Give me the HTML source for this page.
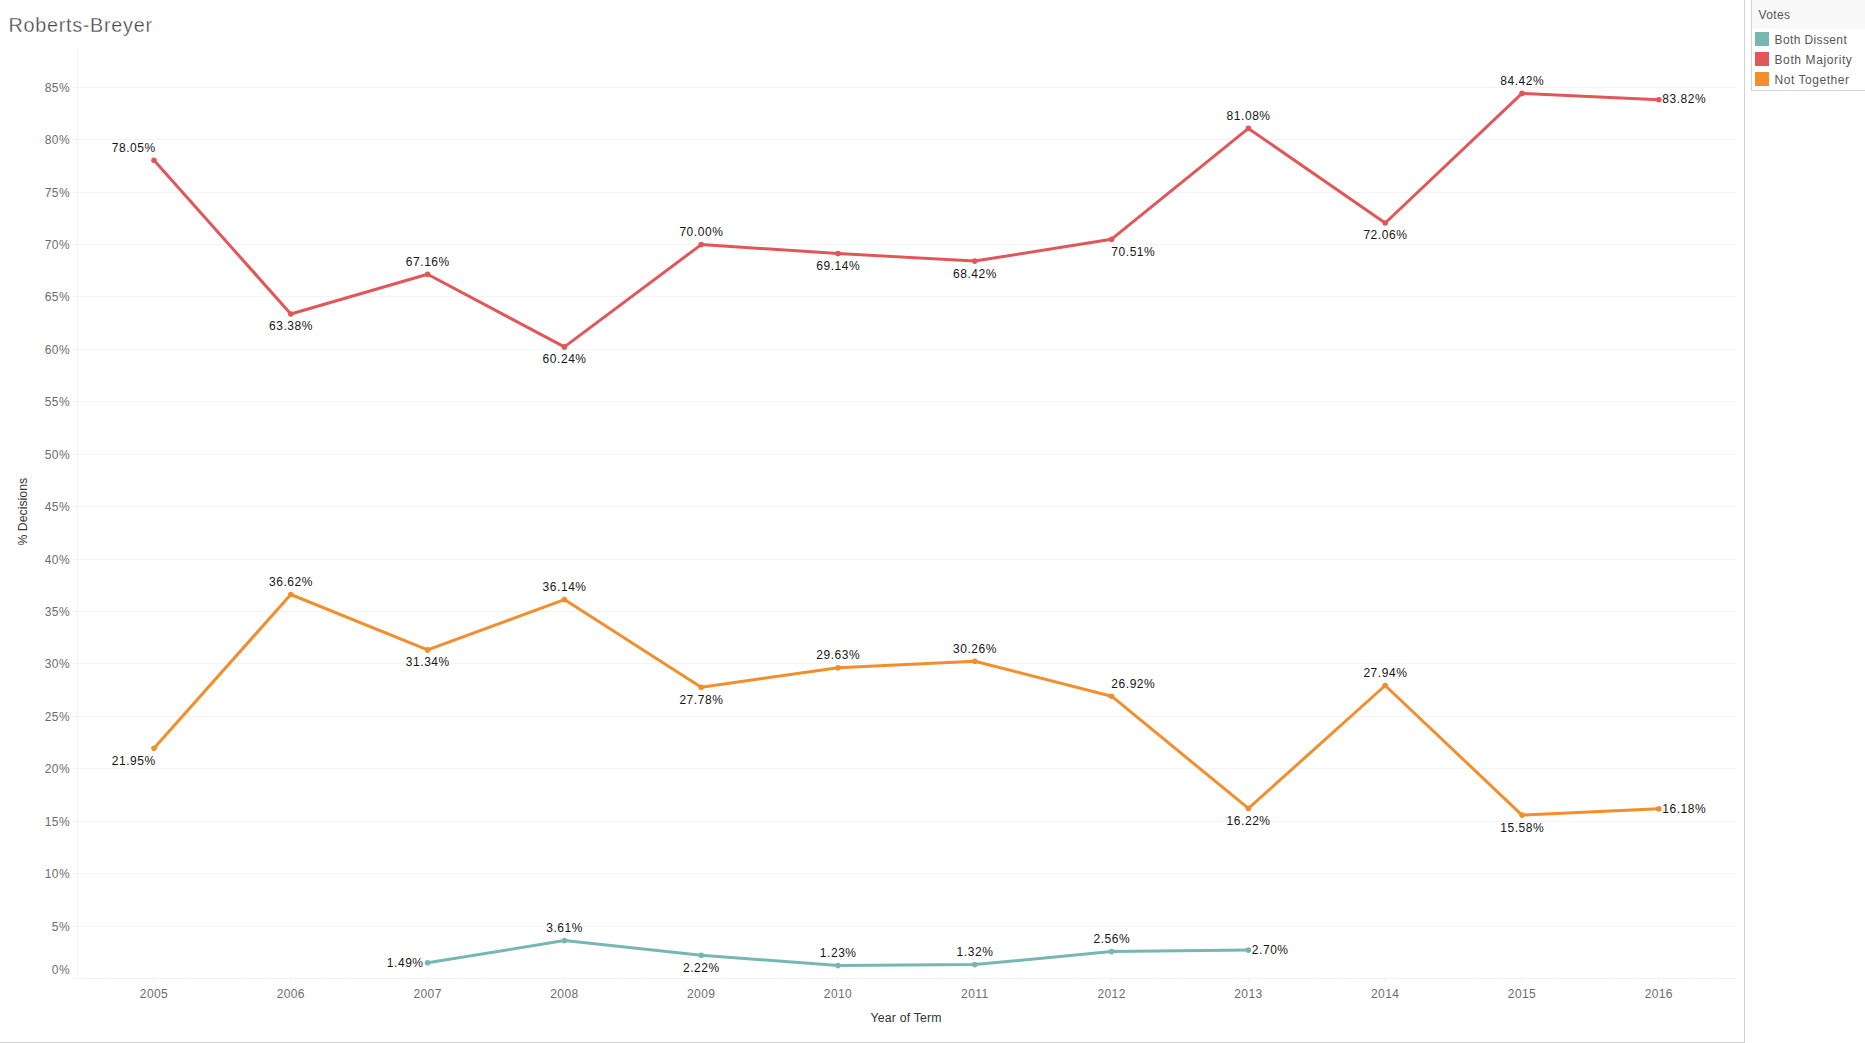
<!DOCTYPE html>
<html><head><meta charset="utf-8"><title>Roberts-Breyer</title>
<style>
html,body{margin:0;padding:0;background:#fff;}
body{width:1865px;height:1043px;overflow:hidden;position:relative;font-family:"Liberation Sans",sans-serif;}
svg{position:absolute;left:0;top:0;}
text{font-family:"Liberation Sans",sans-serif;}
.title{font-size:19.8px;fill:#474747;letter-spacing:0.72px;stroke:#fff;stroke-width:0.3px;}
.ax{font-size:12px;fill:#6c6c6c;letter-spacing:0.4px;}
.axt{font-size:12.3px;fill:#333;letter-spacing:0.3px;}
.lab text{font-size:12px;fill:#161616;letter-spacing:0.55px;}
.leg{font-size:12px;fill:#555;letter-spacing:0.5px;}
</style></head><body>
<svg width="1865" height="1043" viewBox="0 0 1865 1043">

<rect x="0" y="1042" width="1745" height="1" fill="#d0d0d0"/>
<rect x="1744" y="0" width="1" height="1043" fill="#d3d3d3"/>
<text class="title" x="8.5" y="32">Roberts-Breyer</text>
<g stroke="#f4f4f4" stroke-width="1" shape-rendering="crispEdges">
<line x1="72" y1="926.5" x2="1736" y2="926.5"/>
<line x1="72" y1="873.5" x2="1736" y2="873.5"/>
<line x1="72" y1="821.5" x2="1736" y2="821.5"/>
<line x1="72" y1="768.5" x2="1736" y2="768.5"/>
<line x1="72" y1="716.5" x2="1736" y2="716.5"/>
<line x1="72" y1="663.5" x2="1736" y2="663.5"/>
<line x1="72" y1="611.5" x2="1736" y2="611.5"/>
<line x1="72" y1="559.5" x2="1736" y2="559.5"/>
<line x1="72" y1="506.5" x2="1736" y2="506.5"/>
<line x1="72" y1="454.5" x2="1736" y2="454.5"/>
<line x1="72" y1="401.5" x2="1736" y2="401.5"/>
<line x1="72" y1="349.5" x2="1736" y2="349.5"/>
<line x1="72" y1="296.5" x2="1736" y2="296.5"/>
<line x1="72" y1="244.5" x2="1736" y2="244.5"/>
<line x1="72" y1="192.5" x2="1736" y2="192.5"/>
<line x1="72" y1="139.5" x2="1736" y2="139.5"/>
<line x1="72" y1="87.5" x2="1736" y2="87.5"/>
</g>
<g stroke="#f2f2f2" stroke-width="1" shape-rendering="crispEdges">
<line x1="77.5" y1="47" x2="77.5" y2="978.5"/>
<line x1="72" y1="978.5" x2="1736" y2="978.5"/>
<line x1="153.5" y1="979" x2="153.5" y2="983"/>
<line x1="290.5" y1="979" x2="290.5" y2="983"/>
<line x1="427.5" y1="979" x2="427.5" y2="983"/>
<line x1="563.5" y1="979" x2="563.5" y2="983"/>
<line x1="700.5" y1="979" x2="700.5" y2="983"/>
<line x1="837.5" y1="979" x2="837.5" y2="983"/>
<line x1="974.5" y1="979" x2="974.5" y2="983"/>
<line x1="1111.5" y1="979" x2="1111.5" y2="983"/>
<line x1="1248.5" y1="979" x2="1248.5" y2="983"/>
<line x1="1384.5" y1="979" x2="1384.5" y2="983"/>
<line x1="1521.5" y1="979" x2="1521.5" y2="983"/>
<line x1="1658.5" y1="979" x2="1658.5" y2="983"/>
<line x1="84.5" y1="979" x2="84.5" y2="980" stroke="#f3f3f3"/>
<line x1="96.5" y1="979" x2="96.5" y2="980" stroke="#f3f3f3"/>
<line x1="107.5" y1="979" x2="107.5" y2="980" stroke="#f3f3f3"/>
<line x1="119.5" y1="979" x2="119.5" y2="980" stroke="#f3f3f3"/>
<line x1="130.5" y1="979" x2="130.5" y2="980" stroke="#f3f3f3"/>
<line x1="142.5" y1="979" x2="142.5" y2="980" stroke="#f3f3f3"/>
<line x1="165.5" y1="979" x2="165.5" y2="980" stroke="#f3f3f3"/>
<line x1="175.5" y1="979" x2="175.5" y2="980" stroke="#f3f3f3"/>
<line x1="187.5" y1="979" x2="187.5" y2="980" stroke="#f3f3f3"/>
<line x1="198.5" y1="979" x2="198.5" y2="980" stroke="#f3f3f3"/>
<line x1="210.5" y1="979" x2="210.5" y2="980" stroke="#f3f3f3"/>
<line x1="221.5" y1="979" x2="221.5" y2="980" stroke="#f3f3f3"/>
<line x1="233.5" y1="979" x2="233.5" y2="980" stroke="#f3f3f3"/>
<line x1="244.5" y1="979" x2="244.5" y2="980" stroke="#f3f3f3"/>
<line x1="255.5" y1="979" x2="255.5" y2="980" stroke="#f3f3f3"/>
<line x1="267.5" y1="979" x2="267.5" y2="980" stroke="#f3f3f3"/>
<line x1="278.5" y1="979" x2="278.5" y2="980" stroke="#f3f3f3"/>
<line x1="302.5" y1="979" x2="302.5" y2="980" stroke="#f3f3f3"/>
<line x1="312.5" y1="979" x2="312.5" y2="980" stroke="#f3f3f3"/>
<line x1="324.5" y1="979" x2="324.5" y2="980" stroke="#f3f3f3"/>
<line x1="335.5" y1="979" x2="335.5" y2="980" stroke="#f3f3f3"/>
<line x1="347.5" y1="979" x2="347.5" y2="980" stroke="#f3f3f3"/>
<line x1="358.5" y1="979" x2="358.5" y2="980" stroke="#f3f3f3"/>
<line x1="369.5" y1="979" x2="369.5" y2="980" stroke="#f3f3f3"/>
<line x1="381.5" y1="979" x2="381.5" y2="980" stroke="#f3f3f3"/>
<line x1="392.5" y1="979" x2="392.5" y2="980" stroke="#f3f3f3"/>
<line x1="404.5" y1="979" x2="404.5" y2="980" stroke="#f3f3f3"/>
<line x1="415.5" y1="979" x2="415.5" y2="980" stroke="#f3f3f3"/>
<line x1="438.5" y1="979" x2="438.5" y2="980" stroke="#f3f3f3"/>
<line x1="449.5" y1="979" x2="449.5" y2="980" stroke="#f3f3f3"/>
<line x1="460.5" y1="979" x2="460.5" y2="980" stroke="#f3f3f3"/>
<line x1="472.5" y1="979" x2="472.5" y2="980" stroke="#f3f3f3"/>
<line x1="483.5" y1="979" x2="483.5" y2="980" stroke="#f3f3f3"/>
<line x1="495.5" y1="979" x2="495.5" y2="980" stroke="#f3f3f3"/>
<line x1="506.5" y1="979" x2="506.5" y2="980" stroke="#f3f3f3"/>
<line x1="518.5" y1="979" x2="518.5" y2="980" stroke="#f3f3f3"/>
<line x1="529.5" y1="979" x2="529.5" y2="980" stroke="#f3f3f3"/>
<line x1="541.5" y1="979" x2="541.5" y2="980" stroke="#f3f3f3"/>
<line x1="552.5" y1="979" x2="552.5" y2="980" stroke="#f3f3f3"/>
<line x1="575.5" y1="979" x2="575.5" y2="980" stroke="#f3f3f3"/>
<line x1="586.5" y1="979" x2="586.5" y2="980" stroke="#f3f3f3"/>
<line x1="598.5" y1="979" x2="598.5" y2="980" stroke="#f3f3f3"/>
<line x1="609.5" y1="979" x2="609.5" y2="980" stroke="#f3f3f3"/>
<line x1="620.5" y1="979" x2="620.5" y2="980" stroke="#f3f3f3"/>
<line x1="632.5" y1="979" x2="632.5" y2="980" stroke="#f3f3f3"/>
<line x1="643.5" y1="979" x2="643.5" y2="980" stroke="#f3f3f3"/>
<line x1="655.5" y1="979" x2="655.5" y2="980" stroke="#f3f3f3"/>
<line x1="666.5" y1="979" x2="666.5" y2="980" stroke="#f3f3f3"/>
<line x1="678.5" y1="979" x2="678.5" y2="980" stroke="#f3f3f3"/>
<line x1="689.5" y1="979" x2="689.5" y2="980" stroke="#f3f3f3"/>
<line x1="712.5" y1="979" x2="712.5" y2="980" stroke="#f3f3f3"/>
<line x1="723.5" y1="979" x2="723.5" y2="980" stroke="#f3f3f3"/>
<line x1="734.5" y1="979" x2="734.5" y2="980" stroke="#f3f3f3"/>
<line x1="746.5" y1="979" x2="746.5" y2="980" stroke="#f3f3f3"/>
<line x1="757.5" y1="979" x2="757.5" y2="980" stroke="#f3f3f3"/>
<line x1="768.5" y1="979" x2="768.5" y2="980" stroke="#f3f3f3"/>
<line x1="780.5" y1="979" x2="780.5" y2="980" stroke="#f3f3f3"/>
<line x1="792.5" y1="979" x2="792.5" y2="980" stroke="#f3f3f3"/>
<line x1="803.5" y1="979" x2="803.5" y2="980" stroke="#f3f3f3"/>
<line x1="814.5" y1="979" x2="814.5" y2="980" stroke="#f3f3f3"/>
<line x1="826.5" y1="979" x2="826.5" y2="980" stroke="#f3f3f3"/>
<line x1="849.5" y1="979" x2="849.5" y2="980" stroke="#f3f3f3"/>
<line x1="859.5" y1="979" x2="859.5" y2="980" stroke="#f3f3f3"/>
<line x1="871.5" y1="979" x2="871.5" y2="980" stroke="#f3f3f3"/>
<line x1="882.5" y1="979" x2="882.5" y2="980" stroke="#f3f3f3"/>
<line x1="894.5" y1="979" x2="894.5" y2="980" stroke="#f3f3f3"/>
<line x1="905.5" y1="979" x2="905.5" y2="980" stroke="#f3f3f3"/>
<line x1="917.5" y1="979" x2="917.5" y2="980" stroke="#f3f3f3"/>
<line x1="928.5" y1="979" x2="928.5" y2="980" stroke="#f3f3f3"/>
<line x1="940.5" y1="979" x2="940.5" y2="980" stroke="#f3f3f3"/>
<line x1="951.5" y1="979" x2="951.5" y2="980" stroke="#f3f3f3"/>
<line x1="962.5" y1="979" x2="962.5" y2="980" stroke="#f3f3f3"/>
<line x1="986.5" y1="979" x2="986.5" y2="980" stroke="#f3f3f3"/>
<line x1="996.5" y1="979" x2="996.5" y2="980" stroke="#f3f3f3"/>
<line x1="1008.5" y1="979" x2="1008.5" y2="980" stroke="#f3f3f3"/>
<line x1="1019.5" y1="979" x2="1019.5" y2="980" stroke="#f3f3f3"/>
<line x1="1031.5" y1="979" x2="1031.5" y2="980" stroke="#f3f3f3"/>
<line x1="1042.5" y1="979" x2="1042.5" y2="980" stroke="#f3f3f3"/>
<line x1="1054.5" y1="979" x2="1054.5" y2="980" stroke="#f3f3f3"/>
<line x1="1065.5" y1="979" x2="1065.5" y2="980" stroke="#f3f3f3"/>
<line x1="1076.5" y1="979" x2="1076.5" y2="980" stroke="#f3f3f3"/>
<line x1="1088.5" y1="979" x2="1088.5" y2="980" stroke="#f3f3f3"/>
<line x1="1099.5" y1="979" x2="1099.5" y2="980" stroke="#f3f3f3"/>
<line x1="1122.5" y1="979" x2="1122.5" y2="980" stroke="#f3f3f3"/>
<line x1="1133.5" y1="979" x2="1133.5" y2="980" stroke="#f3f3f3"/>
<line x1="1145.5" y1="979" x2="1145.5" y2="980" stroke="#f3f3f3"/>
<line x1="1156.5" y1="979" x2="1156.5" y2="980" stroke="#f3f3f3"/>
<line x1="1168.5" y1="979" x2="1168.5" y2="980" stroke="#f3f3f3"/>
<line x1="1179.5" y1="979" x2="1179.5" y2="980" stroke="#f3f3f3"/>
<line x1="1191.5" y1="979" x2="1191.5" y2="980" stroke="#f3f3f3"/>
<line x1="1202.5" y1="979" x2="1202.5" y2="980" stroke="#f3f3f3"/>
<line x1="1213.5" y1="979" x2="1213.5" y2="980" stroke="#f3f3f3"/>
<line x1="1225.5" y1="979" x2="1225.5" y2="980" stroke="#f3f3f3"/>
<line x1="1236.5" y1="979" x2="1236.5" y2="980" stroke="#f3f3f3"/>
<line x1="1260.5" y1="979" x2="1260.5" y2="980" stroke="#f3f3f3"/>
<line x1="1270.5" y1="979" x2="1270.5" y2="980" stroke="#f3f3f3"/>
<line x1="1282.5" y1="979" x2="1282.5" y2="980" stroke="#f3f3f3"/>
<line x1="1293.5" y1="979" x2="1293.5" y2="980" stroke="#f3f3f3"/>
<line x1="1305.5" y1="979" x2="1305.5" y2="980" stroke="#f3f3f3"/>
<line x1="1316.5" y1="979" x2="1316.5" y2="980" stroke="#f3f3f3"/>
<line x1="1327.5" y1="979" x2="1327.5" y2="980" stroke="#f3f3f3"/>
<line x1="1339.5" y1="979" x2="1339.5" y2="980" stroke="#f3f3f3"/>
<line x1="1350.5" y1="979" x2="1350.5" y2="980" stroke="#f3f3f3"/>
<line x1="1362.5" y1="979" x2="1362.5" y2="980" stroke="#f3f3f3"/>
<line x1="1373.5" y1="979" x2="1373.5" y2="980" stroke="#f3f3f3"/>
<line x1="1396.5" y1="979" x2="1396.5" y2="980" stroke="#f3f3f3"/>
<line x1="1407.5" y1="979" x2="1407.5" y2="980" stroke="#f3f3f3"/>
<line x1="1418.5" y1="979" x2="1418.5" y2="980" stroke="#f3f3f3"/>
<line x1="1430.5" y1="979" x2="1430.5" y2="980" stroke="#f3f3f3"/>
<line x1="1441.5" y1="979" x2="1441.5" y2="980" stroke="#f3f3f3"/>
<line x1="1453.5" y1="979" x2="1453.5" y2="980" stroke="#f3f3f3"/>
<line x1="1464.5" y1="979" x2="1464.5" y2="980" stroke="#f3f3f3"/>
<line x1="1476.5" y1="979" x2="1476.5" y2="980" stroke="#f3f3f3"/>
<line x1="1487.5" y1="979" x2="1487.5" y2="980" stroke="#f3f3f3"/>
<line x1="1499.5" y1="979" x2="1499.5" y2="980" stroke="#f3f3f3"/>
<line x1="1510.5" y1="979" x2="1510.5" y2="980" stroke="#f3f3f3"/>
<line x1="1533.5" y1="979" x2="1533.5" y2="980" stroke="#f3f3f3"/>
<line x1="1544.5" y1="979" x2="1544.5" y2="980" stroke="#f3f3f3"/>
<line x1="1555.5" y1="979" x2="1555.5" y2="980" stroke="#f3f3f3"/>
<line x1="1566.5" y1="979" x2="1566.5" y2="980" stroke="#f3f3f3"/>
<line x1="1578.5" y1="979" x2="1578.5" y2="980" stroke="#f3f3f3"/>
<line x1="1589.5" y1="979" x2="1589.5" y2="980" stroke="#f3f3f3"/>
<line x1="1601.5" y1="979" x2="1601.5" y2="980" stroke="#f3f3f3"/>
<line x1="1612.5" y1="979" x2="1612.5" y2="980" stroke="#f3f3f3"/>
<line x1="1624.5" y1="979" x2="1624.5" y2="980" stroke="#f3f3f3"/>
<line x1="1635.5" y1="979" x2="1635.5" y2="980" stroke="#f3f3f3"/>
<line x1="1647.5" y1="979" x2="1647.5" y2="980" stroke="#f3f3f3"/>
<line x1="1670.5" y1="979" x2="1670.5" y2="980" stroke="#f3f3f3"/>
<line x1="1681.5" y1="979" x2="1681.5" y2="980" stroke="#f3f3f3"/>
<line x1="1692.5" y1="979" x2="1692.5" y2="980" stroke="#f3f3f3"/>
<line x1="1704.5" y1="979" x2="1704.5" y2="980" stroke="#f3f3f3"/>
<line x1="1715.5" y1="979" x2="1715.5" y2="980" stroke="#f3f3f3"/>
<line x1="1726.5" y1="979" x2="1726.5" y2="980" stroke="#f3f3f3"/>
</g>
<g class="ax" text-anchor="end">
<text x="70" y="974.0">0%</text>
<text x="70" y="931.0">5%</text>
<text x="70" y="878.0">10%</text>
<text x="70" y="826.0">15%</text>
<text x="70" y="773.0">20%</text>
<text x="70" y="721.0">25%</text>
<text x="70" y="668.0">30%</text>
<text x="70" y="616.0">35%</text>
<text x="70" y="564.0">40%</text>
<text x="70" y="511.0">45%</text>
<text x="70" y="459.0">50%</text>
<text x="70" y="406.0">55%</text>
<text x="70" y="354.0">60%</text>
<text x="70" y="301.0">65%</text>
<text x="70" y="249.0">70%</text>
<text x="70" y="197.0">75%</text>
<text x="70" y="144.0">80%</text>
<text x="70" y="92.0">85%</text>
</g>
<g class="ax" text-anchor="middle">
<text x="154.0" y="998">2005</text>
<text x="290.8" y="998">2006</text>
<text x="427.6" y="998">2007</text>
<text x="564.4" y="998">2008</text>
<text x="701.2" y="998">2009</text>
<text x="838.0" y="998">2010</text>
<text x="974.8" y="998">2011</text>
<text x="1111.6" y="998">2012</text>
<text x="1248.4" y="998">2013</text>
<text x="1385.2" y="998">2014</text>
<text x="1522.0" y="998">2015</text>
<text x="1658.8" y="998">2016</text>
</g>
<text class="axt" text-anchor="middle" style="letter-spacing:0.2px" x="906.1" y="1022">Year of Term</text>
<text class="axt" text-anchor="middle" style="letter-spacing:0px" transform="translate(27.2,511.7) rotate(-90)">% Decisions</text>
<rect x="113.5" y="142" width="42.5" height="11.5" fill="#fff"/><rect x="270.5" y="320" width="42.5" height="11.5" fill="#fff"/><rect x="407.3" y="256" width="42.5" height="11.5" fill="#fff"/><rect x="544.1" y="353" width="42.5" height="11.5" fill="#fff"/><rect x="680.9" y="226" width="42.5" height="11.5" fill="#fff"/><rect x="817.7" y="260" width="42.5" height="11.5" fill="#fff"/><rect x="954.5" y="268" width="42.5" height="11.5" fill="#fff"/><rect x="1112.5" y="246" width="42.5" height="11.5" fill="#fff"/><rect x="1228.1" y="110" width="42.5" height="11.5" fill="#fff"/><rect x="1364.9" y="229" width="42.5" height="11.5" fill="#fff"/><rect x="1501.7" y="75" width="42.5" height="11.5" fill="#fff"/><rect x="1663.4" y="93" width="42.5" height="11.5" fill="#fff"/><rect x="113.5" y="755" width="42.5" height="11.5" fill="#fff"/><rect x="270.5" y="576" width="42.5" height="11.5" fill="#fff"/><rect x="407.3" y="656" width="42.5" height="11.5" fill="#fff"/><rect x="544.1" y="581" width="42.5" height="11.5" fill="#fff"/><rect x="680.9" y="694" width="42.5" height="11.5" fill="#fff"/><rect x="817.7" y="649" width="42.5" height="11.5" fill="#fff"/><rect x="954.5" y="643" width="42.5" height="11.5" fill="#fff"/><rect x="1112.5" y="678" width="42.5" height="11.5" fill="#fff"/><rect x="1228.1" y="815" width="42.5" height="11.5" fill="#fff"/><rect x="1364.9" y="667" width="42.5" height="11.5" fill="#fff"/><rect x="1501.7" y="822" width="42.5" height="11.5" fill="#fff"/><rect x="1663.4" y="803" width="42.5" height="11.5" fill="#fff"/><rect x="388.8" y="957" width="35.1" height="11.5" fill="#fff"/><rect x="547.8" y="922" width="35.1" height="11.5" fill="#fff"/><rect x="684.6" y="962" width="35.1" height="11.5" fill="#fff"/><rect x="821.4" y="947" width="35.1" height="11.5" fill="#fff"/><rect x="958.2" y="946" width="35.1" height="11.5" fill="#fff"/><rect x="1095.0" y="933" width="35.1" height="11.5" fill="#fff"/><rect x="1253.0" y="944" width="35.1" height="11.5" fill="#fff"/>
<path d="M427.6,962.8 L564.4,940.6 L701.2,955.2 L838.0,965.6 L974.8,964.6 L1111.6,951.6 L1248.4,950.1" fill="none" stroke="#76b7b2" stroke-width="3" stroke-linejoin="round" stroke-linecap="round"/><circle cx="427.6" cy="962.8" r="2.8" fill="#76b7b2"/><circle cx="564.4" cy="940.6" r="2.8" fill="#76b7b2"/><circle cx="701.2" cy="955.2" r="2.8" fill="#76b7b2"/><circle cx="838.0" cy="965.6" r="2.8" fill="#76b7b2"/><circle cx="974.8" cy="964.6" r="2.8" fill="#76b7b2"/><circle cx="1111.6" cy="951.6" r="2.8" fill="#76b7b2"/><circle cx="1248.4" cy="950.1" r="2.8" fill="#76b7b2"/>
<path d="M154.0,748.3 L290.8,594.5 L427.6,649.9 L564.4,599.6 L701.2,687.2 L838.0,667.8 L974.8,661.2 L1111.6,696.2 L1248.4,808.4 L1385.2,685.5 L1522.0,815.1 L1658.8,808.8" fill="none" stroke="#f28e2b" stroke-width="3" stroke-linejoin="round" stroke-linecap="round"/><circle cx="154.0" cy="748.3" r="2.8" fill="#f28e2b"/><circle cx="290.8" cy="594.5" r="2.8" fill="#f28e2b"/><circle cx="427.6" cy="649.9" r="2.8" fill="#f28e2b"/><circle cx="564.4" cy="599.6" r="2.8" fill="#f28e2b"/><circle cx="701.2" cy="687.2" r="2.8" fill="#f28e2b"/><circle cx="838.0" cy="667.8" r="2.8" fill="#f28e2b"/><circle cx="974.8" cy="661.2" r="2.8" fill="#f28e2b"/><circle cx="1111.6" cy="696.2" r="2.8" fill="#f28e2b"/><circle cx="1248.4" cy="808.4" r="2.8" fill="#f28e2b"/><circle cx="1385.2" cy="685.5" r="2.8" fill="#f28e2b"/><circle cx="1522.0" cy="815.1" r="2.8" fill="#f28e2b"/><circle cx="1658.8" cy="808.8" r="2.8" fill="#f28e2b"/>
<path d="M154.0,160.2 L290.8,314.0 L427.6,274.3 L564.4,346.9 L701.2,244.6 L838.0,253.6 L974.8,261.1 L1111.6,239.2 L1248.4,128.4 L1385.2,223.0 L1522.0,93.4 L1658.8,99.7" fill="none" stroke="#e15759" stroke-width="3" stroke-linejoin="round" stroke-linecap="round"/><circle cx="154.0" cy="160.2" r="2.8" fill="#e15759"/><circle cx="290.8" cy="314.0" r="2.8" fill="#e15759"/><circle cx="427.6" cy="274.3" r="2.8" fill="#e15759"/><circle cx="564.4" cy="346.9" r="2.8" fill="#e15759"/><circle cx="701.2" cy="244.6" r="2.8" fill="#e15759"/><circle cx="838.0" cy="253.6" r="2.8" fill="#e15759"/><circle cx="974.8" cy="261.1" r="2.8" fill="#e15759"/><circle cx="1111.6" cy="239.2" r="2.8" fill="#e15759"/><circle cx="1248.4" cy="128.4" r="2.8" fill="#e15759"/><circle cx="1385.2" cy="223.0" r="2.8" fill="#e15759"/><circle cx="1522.0" cy="93.4" r="2.8" fill="#e15759"/><circle cx="1658.8" cy="99.7" r="2.8" fill="#e15759"/>
<g class="lab"><text x="155.7" y="152" text-anchor="end">78.05%</text><text x="291.0" y="330" text-anchor="middle">63.38%</text><text x="427.8" y="266" text-anchor="middle">67.16%</text><text x="564.6" y="363" text-anchor="middle">60.24%</text><text x="701.4" y="236" text-anchor="middle">70.00%</text><text x="838.2" y="270" text-anchor="middle">69.14%</text><text x="975.0" y="278" text-anchor="middle">68.42%</text><text x="1111.3" y="256" text-anchor="start">70.51%</text><text x="1248.6" y="120" text-anchor="middle">81.08%</text><text x="1385.4" y="239" text-anchor="middle">72.06%</text><text x="1522.2" y="85" text-anchor="middle">84.42%</text><text x="1662.2" y="103" text-anchor="start">83.82%</text><text x="155.7" y="765" text-anchor="end">21.95%</text><text x="291.0" y="586" text-anchor="middle">36.62%</text><text x="427.8" y="666" text-anchor="middle">31.34%</text><text x="564.6" y="591" text-anchor="middle">36.14%</text><text x="701.4" y="704" text-anchor="middle">27.78%</text><text x="838.2" y="659" text-anchor="middle">29.63%</text><text x="975.0" y="653" text-anchor="middle">30.26%</text><text x="1111.3" y="688" text-anchor="start">26.92%</text><text x="1248.6" y="825" text-anchor="middle">16.22%</text><text x="1385.4" y="677" text-anchor="middle">27.94%</text><text x="1522.2" y="832" text-anchor="middle">15.58%</text><text x="1662.2" y="813" text-anchor="start">16.18%</text><text x="423.6" y="967" text-anchor="end">1.49%</text><text x="564.6" y="932" text-anchor="middle">3.61%</text><text x="701.4" y="972" text-anchor="middle">2.22%</text><text x="838.2" y="957" text-anchor="middle">1.23%</text><text x="975.0" y="956" text-anchor="middle">1.32%</text><text x="1111.8" y="943" text-anchor="middle">2.56%</text><text x="1251.8" y="954" text-anchor="start">2.70%</text></g>
<rect x="1751.5" y="-1" width="120" height="91.5" fill="#fff" stroke="#d4d4d4" stroke-width="1"/>
<rect x="1752" y="0" width="113" height="29" fill="#f9f9f9"/>
<text class="leg" x="1758.5" y="19" style="letter-spacing:0.36px">Votes</text>
<rect x="1755" y="32" width="14" height="14" fill="#76b7b2"/>
<text class="leg" x="1774.5" y="44.2" style="letter-spacing:0.38px">Both Dissent</text>
<rect x="1755" y="52" width="14" height="14" fill="#e15759"/>
<text class="leg" x="1774.5" y="64.2" style="letter-spacing:0.61px">Both Majority</text>
<rect x="1755" y="72" width="14" height="14" fill="#f28e2b"/>
<text class="leg" x="1774.5" y="84.2" style="letter-spacing:0.54px">Not Together</text>
</svg></body></html>
